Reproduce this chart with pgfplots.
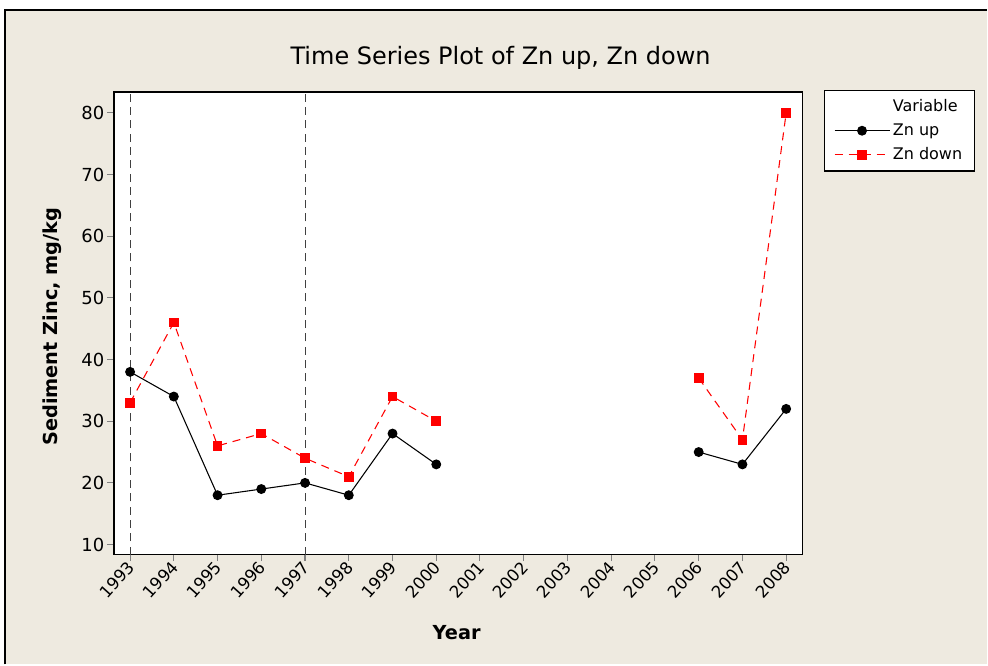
\documentclass[border=0pt]{standalone}
\usepackage{fontspec}
\setmainfont{DejaVu Sans}
\usepackage{pgfplots}
\pgfplotsset{compat=1.18}
\definecolor{bg}{RGB}{238,234,224}
\begin{document}
\begin{tikzpicture}[x=0.75pt,y=0.75pt]
\fill[white] (0,0) rectangle (988,665);
\fill[bg] (5,0) rectangle (988,655);
\draw[line width=1.2pt] (5,0) -- (5,655) -- (988,655);
\useasboundingbox (0,0) rectangle (988,665);
\node[font=\fontsize{18}{21}\selectfont] at (501,607) {Time Series Plot of Zn up, Zn down};
\node[font=\bfseries\fontsize{14.5}{17}\selectfont] at (457,32) {Year};
\node[font=\bfseries\fontsize{14.5}{17}\selectfont, rotate=90] at (52,338) {Sediment Zinc, mg/kg};
\begin{axis}[
  at={(85.5pt,82.5pt)}, anchor=south west,
  scale only axis, width=516.75pt, height=347.25pt,
  axis background/.style={fill=white},
  axis line style={line width=0.9pt},
  xmin=1992.63, xmax=2008.37, ymin=8.38, ymax=83.4,
  xtick={1993,...,2008}, ytick={10,20,...,80},
  xtick pos=bottom, ytick pos=left, tick align=outside,
  major tick length=5pt, tick style={line width=0.8pt},
  /pgf/number format/1000 sep={},
  /pgf/number format/assume math mode=true,
  yticklabel style={font=\fontsize{13.5}{16}\selectfont, inner sep=2pt},
  xticklabel style={font=\fontsize{12.5}{15}\selectfont, rotate=48, anchor=east, inner sep=1pt, yshift=-2pt},
  unbounded coords=jump,
  legend style={at={(1,1)}, anchor=north west, xshift=16.5pt, yshift=1.5pt,
    font=\fontsize{12}{14}\selectfont, draw=black, line width=0.8pt, fill=white,
    inner xsep=7pt, inner ysep=5pt, row sep=3.5pt},
  legend cell align=left,
  legend image code/.code={\draw[mark repeat=2,mark phase=2,#1] plot coordinates {(0cm,0cm) (0.72cm,0cm) (1.45cm,0cm)};},
]
\addlegendimage{empty legend}
\addlegendentry{Variable}
\addplot[black, line width=0.8pt, mark=*, mark size=3.3pt, mark options={solid}] coordinates {
 (1993,38) (1994,34) (1995,18) (1996,19) (1997,20) (1998,18) (1999,28) (2000,23)
 (2001,nan) (2006,25) (2007,23) (2008,32)};
\addlegendentry{Zn up}
\addplot[red, line width=0.8pt, dash pattern=on 6pt off 4.5pt, mark=square*, mark size=3.3pt, mark options={solid}] coordinates {
 (1993,33) (1994,46) (1995,26) (1996,28) (1997,24) (1998,21) (1999,34) (2000,30)
 (2001,nan) (2006,37) (2007,27) (2008,80)};
\addlegendentry{Zn down}
\addplot[black!75, line width=0.8pt, dash pattern=on 6pt off 4pt, forget plot] coordinates {(1993,8.38) (1993,83.4)};
\addplot[black!75, line width=0.8pt, dash pattern=on 6pt off 4pt, forget plot] coordinates {(1997,8.38) (1997,83.4)};
\end{axis}
\end{tikzpicture}
\end{document}
